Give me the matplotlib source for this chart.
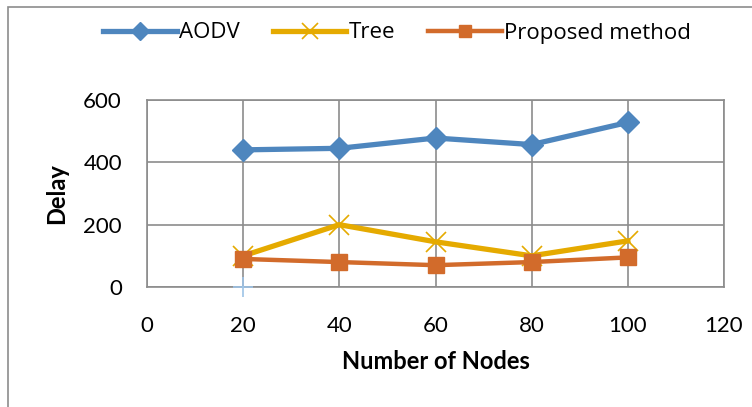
import matplotlib.pyplot as plt
from matplotlib.patches import Rectangle

nodes = [20, 40, 60, 80, 100]
aodv = [440, 445, 478, 457, 528]
tree = [100, 200, 145, 100, 148]
proposed = [90, 80, 70, 80, 95]

# stray point left on the sheet
stray_x = [20]
stray_y = [0]

x_ticks = [0, 20, 40, 60, 80, 100, 120]
y_ticks = [0, 200, 400, 600]

plt.rcParams['font.family'] = ['Lato', 'DejaVu Sans']

fig = plt.figure(figsize=(7.52, 4.07), dpi=100)
ax = fig.add_axes([147 / 752, 1 - 287 / 407, (724 - 147) / 752, (287 - 100) / 407])

# outer chart border
fig.patches.append(Rectangle((8 / 752, -0.1), 1.2, 1 - 7 / 407 + 0.1,
                             transform=fig.transFigure, fill=False,
                             edgecolor='#8c8c8c', linewidth=1.2))

ax.plot(nodes, aodv, color='#4E86BE', lw=3.8, marker='D', ms=11,
        label='AODV', zorder=5)
ax.plot(nodes, tree, color='#E5AA00', lw=3.8, marker='x', ms=14, mew=1.2,
        label='Tree', zorder=4)
ax.plot(nodes, proposed, color='#D26B2B', lw=3.2, marker='s', ms=11,
        label='Proposed method', zorder=6)
ax.plot(stray_x, stray_y, ls='none', marker='+', ms=14, mew=1.2,
        color='#9DC3E6', zorder=3, clip_on=False)

ax.set_xlim(0, 120)
ax.set_ylim(0, 600)
ax.set_xticks(x_ticks)
ax.set_yticks(y_ticks)
ax.grid(True, color='#8c8c8c', lw=1.2)
ax.set_axisbelow(True)
for s in ax.spines.values():
    s.set_color('#8c8c8c')
    s.set_linewidth(1.2)
ax.tick_params(axis='both', length=0, labelsize=16)
ax.tick_params(axis='x', pad=21)
ax.tick_params(axis='y', pad=18)

ax.set_xlabel('Number of Nodes', fontsize=17, fontweight='bold', labelpad=10)
ax.set_ylabel('Delay', fontsize=17, fontweight='bold', labelpad=11)

fig.legend(loc='center', bbox_to_anchor=(0.528, 1 - 33 / 407), ncol=3,
           frameon=False, handlelength=3.3, handletextpad=0.1,
           columnspacing=1.5, markerscale=0.8,
           prop={'family': ['Open Sans', 'DejaVu Sans'], 'size': 16})

fig.savefig('out.png', dpi=100)
